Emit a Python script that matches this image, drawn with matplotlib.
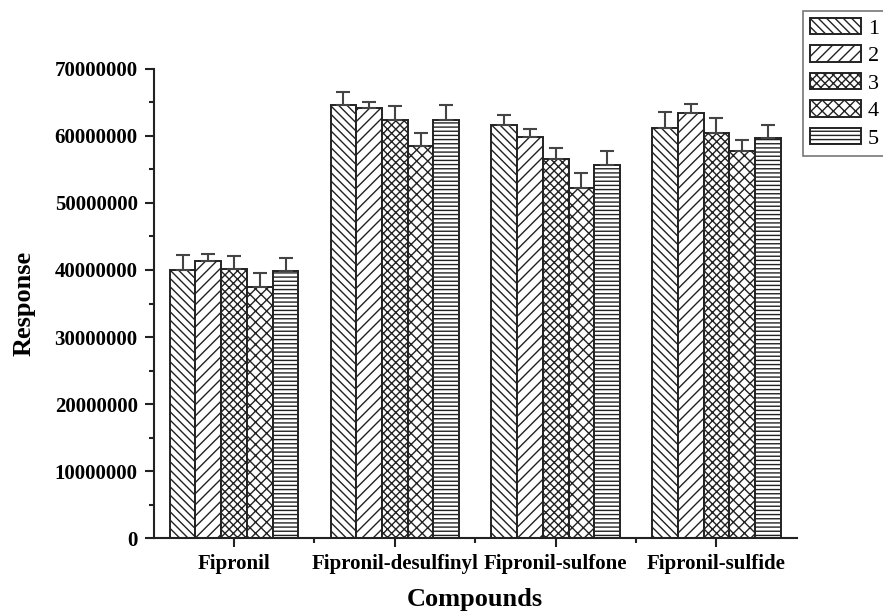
import numpy as np
import matplotlib
matplotlib.use("Agg")
import matplotlib.pyplot as plt

plt.rcParams['font.family'] = ['Liberation Serif', 'DejaVu Serif']
plt.rcParams['hatch.linewidth'] = 1.0

# Compounds on the x axis
compounds = ["Fipronil", "Fipronil-desulfinyl", "Fipronil-sulfone", "Fipronil-sulfide"]
series_labels = ["1", "2", "3", "4", "5"]

# Mean response per series (one value per compound)
s1 = [40000000, 64600000, 61600000, 61200000]
s2 = [41300000, 64100000, 59800000, 63400000]
s3 = [40200000, 62400000, 56500000, 60500000]
s4 = [37500000, 58500000, 52200000, 57700000]
s5 = [39900000, 62300000, 55700000, 59700000]

# Upper error per series
e1 = [2300000, 2000000, 1500000, 2300000]
e2 = [1100000, 900000, 1200000, 1300000]
e3 = [1900000, 2100000, 1700000, 2100000]
e4 = [2100000, 2000000, 2200000, 1700000]
e5 = [1900000, 2300000, 2000000, 2000000]

values = [s1, s2, s3, s4, s5]
errors = [e1, e2, e3, e4, e5]
hatches = ['\\\\\\\\', '///', 'xxxx', 'xxx', '----']

fig = plt.figure(figsize=(8.83, 6.15), dpi=100)
ax = fig.add_axes([0.174, 0.125, 0.7285, 0.763])

x = np.arange(1, len(compounds) + 1)
width = 0.16
for i, (vals, errs) in enumerate(zip(values, errors)):
    pos = x + (i - 2) * width
    ax.bar(pos, vals, width, color='white', edgecolor='#222222', linewidth=1.4,
           hatch=hatches[i], label=series_labels[i], zorder=2)
    ax.errorbar(pos, vals, yerr=[np.zeros(len(errs)), errs], fmt='none',
                ecolor='#444444', elinewidth=1.5, capsize=5, capthick=1.5, zorder=3)

ax.set_xlim(0.5, 4.5)
ax.set_ylim(0, 70000000)
ax.set_xticks(x)
ax.set_xticks(np.arange(1.5, 4.5, 1.0), minor=True)
ax.set_xticklabels(compounds, fontsize=15, fontweight='bold')
ax.set_yticks(np.arange(0, 70000001, 10000000))
ax.set_yticks(np.arange(5000000, 70000000, 10000000), minor=True)
ax.set_yticklabels([f"{int(v)}" for v in np.arange(0, 70000001, 10000000)],
                   fontsize=15, fontweight='bold')

for side in ['top', 'right']:
    ax.spines[side].set_visible(False)
for side in ['left', 'bottom']:
    ax.spines[side].set_linewidth(1.5)
    ax.spines[side].set_color('#222222')

ax.tick_params(axis='both', which='major', direction='out', length=6.5, width=1.5,
               color='#222222', pad=5)
ax.tick_params(axis='both', which='minor', direction='out', length=3.8, width=1.5,
               color='#222222')

ax.set_xlabel("Compounds", fontsize=19, fontweight='bold', labelpad=10)
ax.set_ylabel("Response", fontsize=19, fontweight='bold', labelpad=14)

leg = fig.legend(loc='upper right', bbox_to_anchor=(1.003, 0.982), fontsize=16,
                 frameon=True, fancybox=False, edgecolor='#555555',
                 handlelength=2.3, handleheight=0.75, labelspacing=0.3,
                 handletextpad=0.3, borderpad=0.3, borderaxespad=0)
leg.get_frame().set_linewidth(1.2)

fig.savefig("out.png", dpi=100)
